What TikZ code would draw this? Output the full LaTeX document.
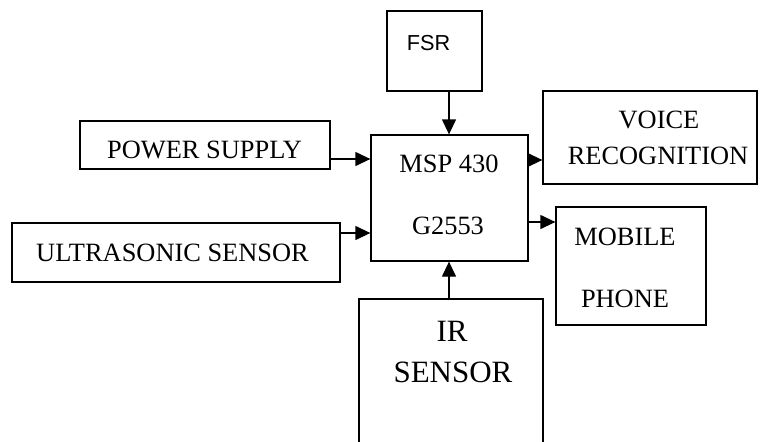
\documentclass[tikz,border=0pt]{standalone}
\usepackage{fontspec}
\setmainfont{Liberation Serif}
\newfontfamily\sansfnt{Liberation Sans}
\usetikzlibrary{arrows.meta}
\tikzset{
  blk/.style={draw, line width=1.3pt, rectangle, inner sep=0pt},
  txt/.style={inner sep=0pt, font=\fontsize{26.4}{30}\selectfont},
  bigtxt/.style={inner sep=0pt, font=\fontsize{31}{36}\selectfont},
  sanstxt/.style={inner sep=0pt, font=\sansfnt\fontsize{21.7}{26}\selectfont},
  arr/.style={line width=1.3pt, -{Triangle[length=15pt,width=14pt]}}
}
\begin{document}
\begin{tikzpicture}[x=1pt,y=-1pt]
\useasboundingbox (0,0) rectangle (761,442);
% boxes
\node[blk, minimum width=95pt, minimum height=80pt] (fsr) at (434.5,51) {};
\node[blk, minimum width=157pt, minimum height=126pt] (msp) at (449.5,198) {};
\node[blk, minimum width=214pt, minimum height=93pt] (voice) at (650,137.5) {};
\node[blk, minimum width=150pt, minimum height=118pt] (mobile) at (631,266) {};
\node[blk, minimum width=184pt, minimum height=160pt] (ir) at (451,379) {};
\node[blk, minimum width=250pt, minimum height=48pt] (power) at (205,145) {};
\node[blk, minimum width=328pt, minimum height=59pt] (ultra) at (176,252.5) {};
% texts
\node[sanstxt, anchor=base] (fsrt) at (428.5,50) {FSR};
\node[txt, anchor=base] (mspa) at (449,172) {MSP 430};
\node[txt, anchor=base] (mspb) at (448,234) {G2553};
\node[txt, anchor=base] (voicea) at (659,128.5) {VOICE};
\node[txt, anchor=base] (voiceb) at (658,164.5) {RECOGNITION};
\node[txt, anchor=base] (mobilea) at (625,245) {MOBILE};
\node[txt, anchor=base] (mobileb) at (625,307) {PHONE};
\node[bigtxt, anchor=base] (ira) at (452,341) {IR};
\node[bigtxt, anchor=base] (irb) at (453,382) {SENSOR};
\node[txt, anchor=base] (powert) at (204.5,158) {POWER SUPPLY};
\node[txt, anchor=base] (ultrat) at (172.5,261) {ULTRASONIC SENSOR};
% connectors
\draw[arr] (fsr.south -| 449,0) -- (msp.north -| 449,0);
\draw[arr] (ir.north -| 449,0) -- (msp.south -| 449,0);
\draw[arr] (power.east |- 0,159) -- (msp.west |- 0,159);
\draw[arr] (ultra.east |- 0,233) -- (msp.west |- 0,233);
\draw[arr] (msp.east |- 0,160) -- (voice.west |- 0,160);
\draw[arr] (msp.east |- 0,222) -- (mobile.west |- 0,222);
\end{tikzpicture}
\end{document}
